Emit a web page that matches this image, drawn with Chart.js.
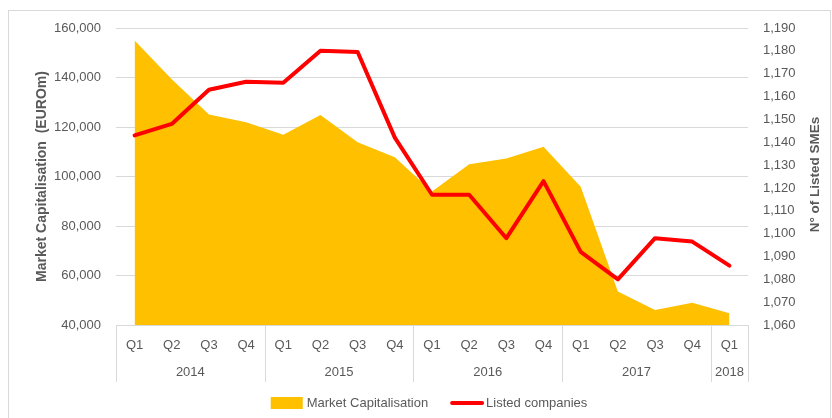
<!DOCTYPE html>
<html>
<head>
<meta charset="utf-8">
<script src="https://cdn.jsdelivr.net/npm/chart.js@4"></script>
<style>
  body { margin: 0; background: #fff; }
  #frame { position: absolute; left: 8px; top: 10px; width: 821px; height: 420px; border: 1px solid #d9d9d9; }
  #chart { position: absolute; left: 0; top: 0; }
</style>
</head>
<body>
<div id="frame"></div>
<canvas id="chart" width="832" height="418"></canvas>
<script>
// quarters and the year each one belongs to
const quarters = ["Q1", "Q2", "Q3", "Q4", "Q1", "Q2", "Q3", "Q4", "Q1", "Q2", "Q3", "Q4", "Q1", "Q2", "Q3", "Q4", "Q1"];
const quarterYears = ["2014", "2014", "2014", "2014", "2015", "2015", "2015", "2015",
  "2016", "2016", "2016", "2016", "2017", "2017", "2017", "2017", "2018"];

// market capitalisation, EUR m (left axis)
const marketCap = [155000, 139300, 125100, 121900, 116900, 124800, 113800, 107800,
  93900, 105000, 107300, 112000, 95900, 53500, 46100, 49000, 44700];

// number of listed SMEs (right axis)
const listedCompanies = [1143, 1148, 1163, 1166.5, 1166, 1180, 1179.5, 1142,
  1117, 1117, 1098, 1123, 1092, 1080, 1098, 1096.5, 1086];

const capTicks = { min: 40000, max: 160000, step: 20000 };
const smeTicks = { min: 1060, max: 1190, step: 10 };
const smeTitle = "N° of Listed SMEs";

const textGrey = "#595959";
const lineGrey = "#d9d9d9";
const fontFamily = '"Liberation Sans", Arial, sans-serif';

Chart.defaults.font.family = fontFamily;
Chart.defaults.font.size = 13;
Chart.defaults.color = textGrey;

// year row, separators, right title (reads upward) and legend
const yearAxis = {
  id: "yearAxis",
  afterDraw(chart) {
    const { ctx, chartArea, scales: { x } } = chart;
    const half = (x.getPixelForValue(1) - x.getPixelForValue(0)) / 2;
    const bottom = chartArea.bottom;

    ctx.save();
    ctx.strokeStyle = lineGrey;
    ctx.lineWidth = 1;
    ctx.fillStyle = textGrey;
    ctx.font = "13px " + fontFamily;
    ctx.textAlign = "center";
    ctx.textBaseline = "middle";

    let start = 0;
    for (let i = 1; i <= quarterYears.length; i++) {
      if (i === quarterYears.length || quarterYears[i] !== quarterYears[start]) {
        const left = x.getPixelForValue(start) - half;
        const right = x.getPixelForValue(i - 1) + half;
        ctx.beginPath();
        ctx.moveTo(Math.round(left) + 0.5, bottom);
        ctx.lineTo(Math.round(left) + 0.5, bottom + 57);
        ctx.moveTo(Math.round(right) + 0.5, bottom);
        ctx.lineTo(Math.round(right) + 0.5, bottom + 57);
        ctx.stroke();
        ctx.fillText(quarterYears[start], (left + right) / 2, bottom + 47);
        start = i;
      }
    }

    // legend
    const sets = chart.data.datasets;
    const gap = 4;
    const keyW = 32;
    const widths = sets.map(d => keyW + gap + ctx.measureText(d.label).width);
    const total = widths.reduce((a, b) => a + b, 0) + 22;
    let lx = (chartArea.left + chartArea.right) / 2 - total / 2 - 3;
    const ly = 403;
    ctx.textAlign = "left";
    sets.forEach((d, i) => {
      if (d.fill) {
        ctx.fillStyle = d.backgroundColor;
        ctx.fillRect(lx, ly - 6, keyW, 12);
      } else {
        ctx.strokeStyle = d.borderColor;
        ctx.lineWidth = 4;
        ctx.lineCap = "round";
        ctx.beginPath();
        ctx.moveTo(lx + 2, ly);
        ctx.lineTo(lx + keyW, ly);
        ctx.stroke();
      }
      ctx.fillStyle = textGrey;
      ctx.fillText(d.label, lx + keyW + gap, ly);
      lx += widths[i] + 22;
    });

    // right axis title
    ctx.translate(815, (chartArea.top + chartArea.bottom) / 2 - 2);
    ctx.rotate(-Math.PI / 2);
    ctx.textAlign = "center";
    ctx.font = "bold 13.5px " + fontFamily;
    ctx.fillText(smeTitle, 0, 0);
    ctx.restore();
  }
};

new Chart(document.getElementById("chart"), {
  type: "line",
  data: {
    labels: quarters,
    datasets: [
      {
        label: "Market Capitalisation",
        data: marketCap,
        yAxisID: "y",
        fill: "start",
        backgroundColor: "#FFC000",
        borderWidth: 0,
        pointRadius: 0,
        tension: 0,
        order: 2,
      },
      {
        label: "Listed companies",
        data: listedCompanies,
        yAxisID: "y1",
        fill: false,
        borderColor: "#FF0000",
        borderWidth: 4,
        borderCapStyle: "round",
        borderJoinStyle: "round",
        pointRadius: 0,
        tension: 0,
        order: 1,
      },
    ],
  },
  options: {
    responsive: false,
    devicePixelRatio: 1,
    animation: false,
    layout: { padding: { top: 28, left: 0, right: 0, bottom: 0 } },
    plugins: {
      legend: { display: false },
      tooltip: { enabled: false },
    },
    scales: {
      x: {
        offset: true,
        grid: { display: false },
        border: { display: false },
        ticks: { padding: 5, maxRotation: 0, autoSkip: false },
        afterFit: (scale) => { scale.height = 93; },
      },
      y: {
        position: "left",
        min: capTicks.min,
        max: capTicks.max,
        ticks: { stepSize: capTicks.step, padding: 15, autoSkip: false },
        grid: { color: lineGrey, drawTicks: false },
        border: { display: false },
        title: {
          display: true,
          text: "Market Capitalisation  (EUROm)",
          font: { size: 14, weight: "bold" },
          color: textGrey,
          padding: { top: 34, bottom: 0 },
        },
        afterFit: (scale) => { scale.width = 116; },
      },
      y1: {
        position: "right",
        min: smeTicks.min,
        max: smeTicks.max,
        ticks: { stepSize: smeTicks.step, padding: 15, autoSkip: false },
        grid: { drawOnChartArea: false, drawTicks: false },
        border: { display: false },
        afterFit: (scale) => { scale.width = 84; },
      },
    },
  },
  plugins: [yearAxis],
});
</script>
</body>
</html>
